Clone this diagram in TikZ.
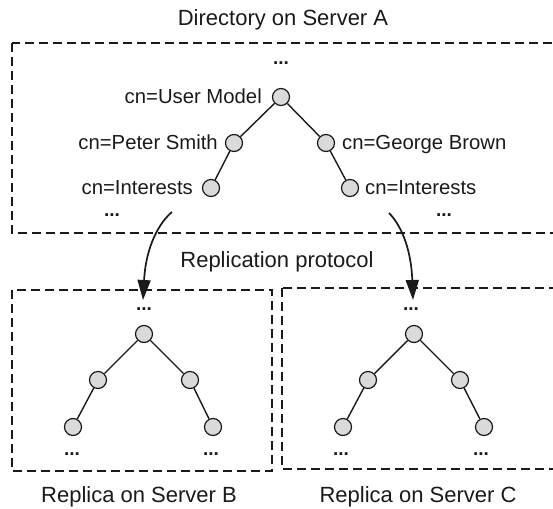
\documentclass[tikz,border=0pt]{standalone}
\usepackage{fontspec}
\setmainfont{Liberation Sans}
\usetikzlibrary{arrows.meta}
\definecolor{nodegray}{HTML}{D9DADC}
\definecolor{ink}{HTML}{1A1A1A}
\begin{document}
\begin{tikzpicture}[x=1pt,y=-1pt,
  tnode/.style={circle, draw=ink, fill=nodegray, minimum size=17pt, inner sep=0pt, line width=1.2pt},
  lbl/.style={font=\fontsize{20.3}{24}\selectfont, text=ink, inner sep=0pt},
  big/.style={font=\fontsize{22}{26}\selectfont, text=ink, inner sep=0pt, anchor=base},
  dotsty/.style={font=\bfseries\fontsize{19}{24}\selectfont, text=ink, inner sep=0pt, anchor=base},
  box/.style={draw=ink, line width=2.5pt, dash pattern=on 9pt off 5pt},
  edge/.style={draw=ink, line width=1.4pt},
  flow/.style={draw=ink, line width=1.7pt, -{Triangle[length=20pt,width=13pt]}}]
\useasboundingbox (0,0) rectangle (553,508);
\clip (0,0) rectangle (553,508);

% containers
\draw[box] (12,43) rectangle (575,233);
\draw[box] (12,290) rectangle (272,471);
\draw[box] (282,288) rectangle (575,469);

% titles
\node[big] (tA) at (283,26) {Directory on Server A};
\node[big] (tR) at (277,267.5) {Replication protocol};
\node[big] (tB) at (139,502) {Replica on Server B};
\node[big] (tC) at (418,502) {Replica on Server C};

% top tree
\node[dotsty] (d0) at (281,64.5) {...};
\node[tnode] (um) at (281,97) {};
\node[tnode] (ps) at (234,143) {};
\node[tnode] (gb) at (326,143) {};
\node[tnode] (il) at (211,188) {};
\node[tnode] (ir) at (350,188) {};
\draw[edge] (um) -- (ps);
\draw[edge] (um) -- (gb);
\draw[edge] (ps) -- (il);
\draw[edge] (gb) -- (ir);
\node[lbl, anchor=base east] (lum) at (262,103.5) {cn=User Model};
\node[lbl, anchor=base east] (lps) at (218,149.5) {cn=Peter Smith};
\node[lbl, anchor=base west] (lgb) at (342,149.5) {cn=George Brown};
\node[lbl, anchor=base east] (lil) at (193,194) {cn=Interests};
\node[lbl, anchor=base west] (lir) at (365,194) {cn=Interests};
\node[dotsty] (d1) at (112,216.5) {...};
\node[dotsty] (d2) at (444,216.5) {...};

% replica B tree
\node[dotsty] (b0) at (144,310) {...};
\node[tnode] (br) at (144,334) {};
\node[tnode] (bl) at (98,380) {};
\node[tnode] (bm) at (190,380) {};
\node[tnode] (bll) at (73,427) {};
\node[tnode] (bmr) at (213,427) {};
\draw[edge] (br) -- (bl);
\draw[edge] (br) -- (bm);
\draw[edge] (bl) -- (bll);
\draw[edge] (bm) -- (bmr);
\node[dotsty] (b1) at (72,455) {...};
\node[dotsty] (b2) at (211,455) {...};

% replica C tree
\node[dotsty] (c0) at (411,310) {...};
\node[tnode] (cr) at (414,334) {};
\node[tnode] (cl) at (368,380) {};
\node[tnode] (cm) at (460,380) {};
\node[tnode] (cll) at (343,427) {};
\node[tnode] (cmr) at (484,427) {};
\draw[edge] (cr) -- (cl);
\draw[edge] (cr) -- (cm);
\draw[edge] (cl) -- (cll);
\draw[edge] (cm) -- (cmr);
\node[dotsty] (c1) at (341,455) {...};
\node[dotsty] (c2) at (481,455) {...};

% replication arrows
\coordinate (s1) at (172,212);
\coordinate (e1) at (143,300);
\coordinate (s2) at (389,213);
\coordinate (e2) at (413,300);
\draw[flow] (s1) .. controls (160,222) and (146,245) .. (e1);
\draw[flow] (s2) .. controls (399,223) and (411,245) .. (e2);
\end{tikzpicture}
\end{document}
